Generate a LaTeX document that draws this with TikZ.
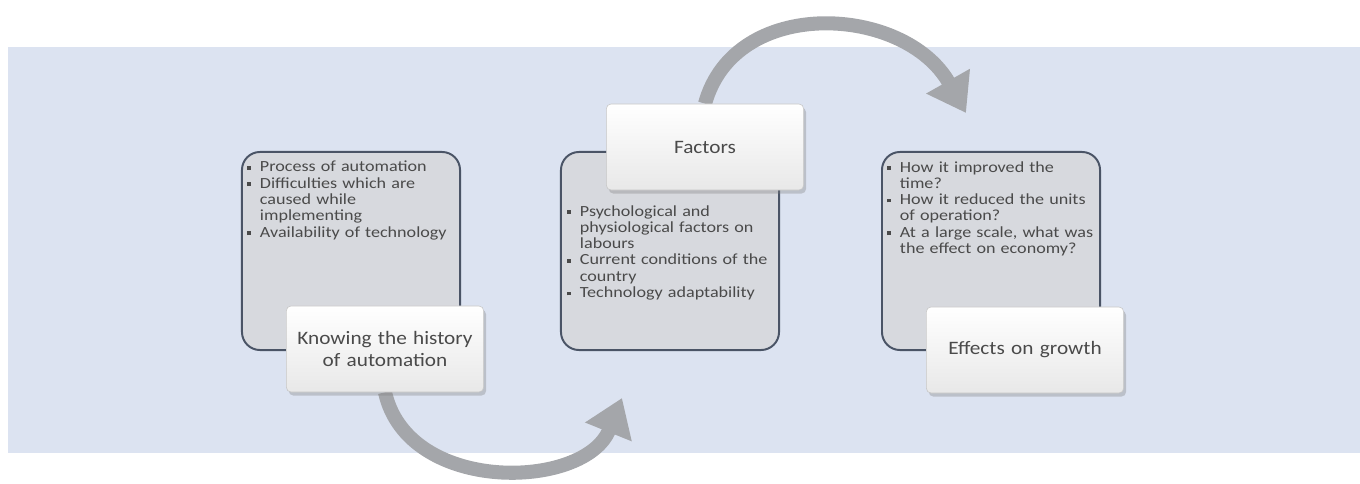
\documentclass[tikz,border=0pt]{standalone}
\usepackage{fontspec}
\setmainfont{Carlito}
\newfontfamily\widefont[FakeStretch=1.17]{Carlito}
\newfontfamily\titlefont[FakeStretch=1.12]{Carlito}
\usetikzlibrary{arrows.meta,positioning,shadows}

\definecolor{bandblue}{HTML}{DCE3F1}
\definecolor{boxgray}{HTML}{D7D9DE}
\definecolor{boxline}{HTML}{4A5466}
\definecolor{arcgray}{HTML}{A4A6AA}
\definecolor{txtgray}{HTML}{4A4A4A}

\pgfdeclarelayer{bg}
\pgfsetlayers{bg,main}

\newcommand{\itm}[1]{\hangindent=9pt\hangafter=1\noindent\makebox[9pt][l]{\rule[0.3ex]{0.5ex}{0.5ex}}#1\par}

\tikzset{
  topicbox/.style={draw=boxline,line width=1.4pt,fill=boxgray,rounded corners=0.45cm,
    minimum width=5.45cm,minimum height=4.95cm},
  pointlist/.style={anchor=north west,inner sep=0pt,text width=5.3cm,
    text=txtgray,font=\widefont\fontsize{11}{11.6}\selectfont\raggedright},
  titlebox/.style={draw=gray!45,line width=0.4pt,rounded corners=0.12cm,top color=white,
    bottom color=gray!18,minimum width=4.9cm,minimum height=2.15cm,text width=4.7cm,
    align=center,text=txtgray,font=\titlefont\fontsize{13.5}{15.5}\selectfont,
    drop shadow={shadow xshift=0.6mm,shadow yshift=-0.9mm,opacity=0.35}},
  cyclearc/.style={draw=arcgray,line width=10pt,-{Triangle[length=26pt,width=34pt]}}
}

\begin{document}
\begin{tikzpicture}[x=0.025cm,y=-0.025cm]
  \useasboundingbox (0,0) rectangle (1360,484);

  \node[topicbox] (hist) at (351,251) {};
  \node[topicbox] (fact) at (670,251) {};
  \node[topicbox] (grow) at (991,251) {};

  \node[pointlist] (histpts) at (247,161) {%
    \itm{Process of automation}
    \itm{Difficulties which are\newline caused while\newline implementing}
    \itm{Availability of technology}};
  \node[pointlist] (factpts) at (567,205) {%
    \itm{Psychological and\newline physiological factors on\newline labours}
    \itm{Current conditions of the\newline country}
    \itm{Technology adaptability}};
  \node[pointlist] (growpts) at (887,161) {%
    \itm{How it improved the\newline time?}
    \itm{How it reduced the units\newline of operation?}
    \itm{At a large scale, what was\newline the effect on economy?}};

  \node[titlebox] (histlab) at (385,349) {Knowing the history\\of automation};
  \node[titlebox] (factlab) at (705,147) {Factors};
  \node[titlebox] (growlab) at (1025,350) {Effects on growth};

  \coordinate (factin) at (622,398);
  \coordinate (growin) at (966,113);

  \begin{pgfonlayer}{bg}
    \fill[bandblue] (8,47) rectangle (1360,453);
    \draw[cyclearc] (histlab.south) .. controls (408,495) and (585,490) .. (factin);
    \draw[cyclearc] (factlab.north) .. controls (735,-5) and (905,5) .. (growin);
  \end{pgfonlayer}
\end{tikzpicture}
\end{document}
